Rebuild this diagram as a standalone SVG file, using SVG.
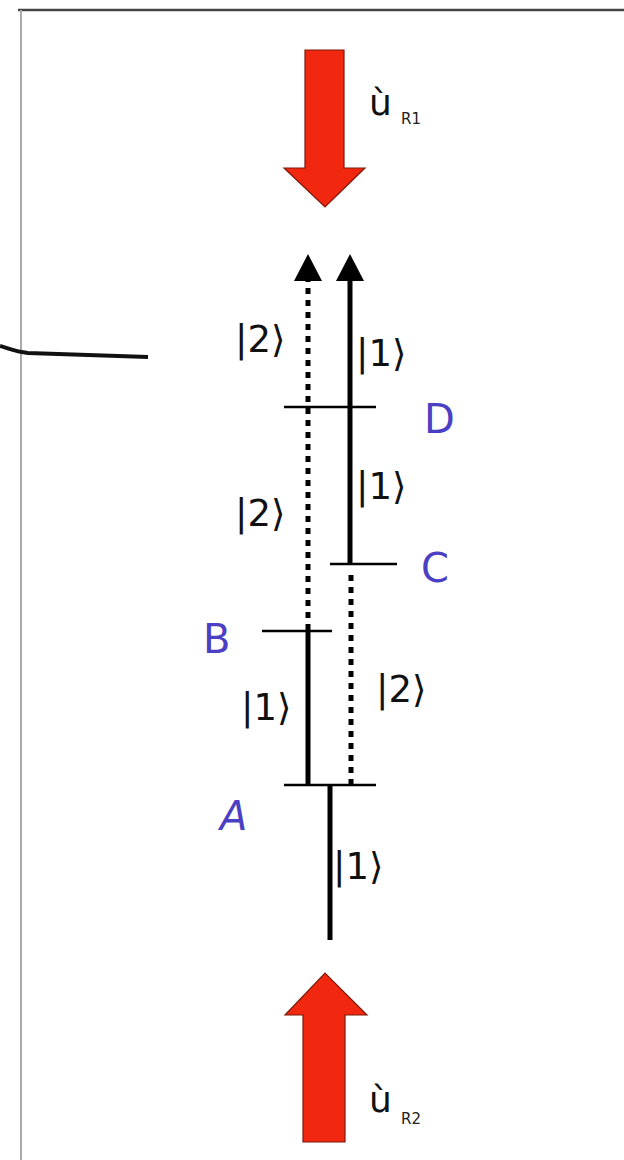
<svg xmlns="http://www.w3.org/2000/svg" width="624" height="1160" viewBox="0 0 624 1160">
<style>
.ket{font-family:"DejaVu Sans","Liberation Sans",sans-serif;font-size:37px;fill:#111}
.lab{font-family:"DejaVu Sans","Liberation Sans",sans-serif;font-size:40px;fill:#4b40c4}
.u{font-family:"DejaVu Sans","Liberation Sans",sans-serif;font-size:36px;fill:#111}
.sub{font-family:"DejaVu Sans","Liberation Sans",sans-serif;font-size:15px;fill:#222}
.solid{stroke:#000;stroke-width:5;fill:none}
.dot{stroke:#000;stroke-width:5;stroke-dasharray:6 6;fill:none}
.lvl{stroke:#000;stroke-width:2.5}
.red{fill:#f2270f;stroke:#7a1a0a;stroke-width:1.2}
.head{fill:#000}
</style>
<rect width="624" height="1160" fill="#fff"/>
<g id="frame">
<line x1="18" y1="10" x2="624" y2="10" stroke="#444" stroke-width="2.5"/>
<line x1="21" y1="10" x2="21" y2="1160" stroke="#aaa" stroke-width="2"/>
<path d="M0 346 C10 349 16 352 28 353 L148 357" stroke="#111" stroke-width="4" fill="none"/>
</g>
<g id="arrow-R1">
<path class="red" d="M305 50 H344 V168 H365 L325 207 L284 168 H305 Z"/>
<text class="u" x="369" y="115">ù</text><text class="sub" x="401" y="124">R1</text>
</g>
<g id="arrow-R2">
<path class="red" d="M303 1142 H345 V1015 H367 L325 973 L285 1015 H303 Z"/>
<text class="u" x="369" y="1112">ù</text><text class="sub" x="401" y="1124">R2</text>
</g>
<g id="connectors">
<line class="dot" x1="308" y1="630" x2="308" y2="278"/>
<path class="head" d="M308 254 L322 281 L294 281 Z"/>
<line class="solid" x1="350" y1="565" x2="350" y2="278"/>
<path class="head" d="M350 254 L364 281 L336 281 Z"/>
<line class="solid" x1="308" y1="785" x2="308" y2="630"/>
<line class="dot" x1="351" y1="785" x2="351" y2="571"/>
<line class="solid" x1="330" y1="785" x2="330" y2="940"/>
</g>
<g id="level-D"><line class="lvl" x1="284" y1="407" x2="376" y2="407"/><text class="lab" x="424" y="433">D</text></g>
<g id="level-C"><line class="lvl" x1="330" y1="564" x2="397" y2="564"/><text class="lab" x="421" y="582">C</text></g>
<g id="level-B"><line class="lvl" x1="262" y1="631" x2="332" y2="631"/><text class="lab" x="203" y="653">B</text></g>
<g id="level-A"><line class="lvl" x1="284" y1="785" x2="376" y2="785"/><text class="lab" x="220" y="830" font-style="italic">A</text></g>
<g id="labels">
<text class="ket" x="235" y="352">|2⟩</text>
<text class="ket" x="356" y="366">|1⟩</text>
<text class="ket" x="235" y="526">|2⟩</text>
<text class="ket" x="356" y="499">|1⟩</text>
<text class="ket" x="241" y="720">|1⟩</text>
<text class="ket" x="376" y="702">|2⟩</text>
<text class="ket" x="333" y="879">|1⟩</text>
</g>
</svg>
